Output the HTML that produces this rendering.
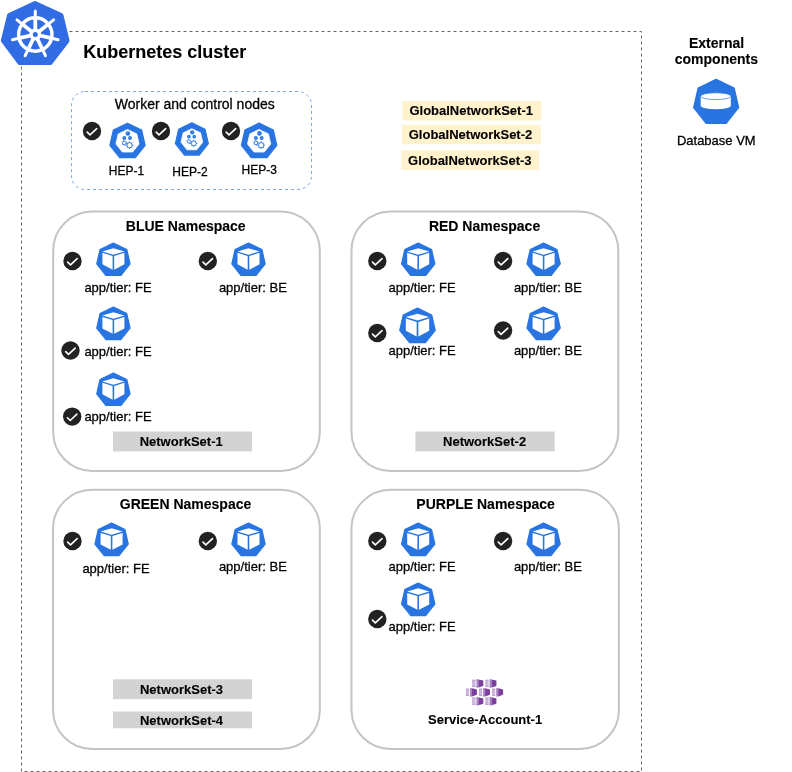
<!DOCTYPE html>
<html><head><meta charset="utf-8"><style>html,body{margin:0;padding:0;background:#fff;width:792px;height:772px;overflow:hidden}</style></head>
<body><svg width="792" height="772" viewBox="0 0 792 772" style="display:block;will-change:transform;font-family:'Liberation Sans',sans-serif"><rect x="21.5" y="31.5" width="620" height="740" fill="none" stroke="#666" stroke-width="1" stroke-dasharray="3 3"/>
<polygon points="35.00,3.50 61.11,15.48 67.12,40.66 50.12,62.71 19.88,62.71 3.27,40.65 9.37,15.50" fill="#326ce5" stroke="#326ce5" stroke-width="4.8" stroke-linejoin="round"/>
<circle cx="35.3" cy="34.5" r="16.65" fill="none" stroke="#fff" stroke-width="3.5"/>
<line x1="35.3" y1="34.5" x2="35.30" y2="17.85" stroke="#fff" stroke-width="3.8"/>
<line x1="35.30" y1="17.85" x2="35.30" y2="11.10" stroke="#fff" stroke-width="3.0" stroke-linecap="round"/>
<line x1="35.3" y1="34.5" x2="48.32" y2="24.12" stroke="#fff" stroke-width="3.8"/>
<line x1="48.32" y1="24.12" x2="53.59" y2="19.91" stroke="#fff" stroke-width="3.0" stroke-linecap="round"/>
<line x1="35.3" y1="34.5" x2="51.53" y2="38.20" stroke="#fff" stroke-width="3.8"/>
<line x1="51.53" y1="38.20" x2="58.11" y2="39.71" stroke="#fff" stroke-width="3.0" stroke-linecap="round"/>
<line x1="35.3" y1="34.5" x2="42.52" y2="49.50" stroke="#fff" stroke-width="3.8"/>
<line x1="42.52" y1="49.50" x2="45.45" y2="55.58" stroke="#fff" stroke-width="3.0" stroke-linecap="round"/>
<line x1="35.3" y1="34.5" x2="28.08" y2="49.50" stroke="#fff" stroke-width="3.8"/>
<line x1="28.08" y1="49.50" x2="25.15" y2="55.58" stroke="#fff" stroke-width="3.0" stroke-linecap="round"/>
<line x1="35.3" y1="34.5" x2="19.07" y2="38.20" stroke="#fff" stroke-width="3.8"/>
<line x1="19.07" y1="38.20" x2="12.49" y2="39.71" stroke="#fff" stroke-width="3.0" stroke-linecap="round"/>
<line x1="35.3" y1="34.5" x2="22.28" y2="24.12" stroke="#fff" stroke-width="3.8"/>
<line x1="22.28" y1="24.12" x2="17.01" y2="19.91" stroke="#fff" stroke-width="3.0" stroke-linecap="round"/>
<circle cx="35.3" cy="34.5" r="6.0" fill="#fff"/>
<circle cx="35.3" cy="34.5" r="2.5" fill="#326ce5"/>
<text x="164.8" y="57.7" font-size="18" font-weight="bold" text-anchor="middle" fill="#000" stroke="#000" stroke-width="0.12">Kubernetes cluster</text>
<rect x="71.5" y="91.5" width="240" height="98" rx="13.5" ry="13.5" fill="none" stroke="#7ea6e0" stroke-width="1" stroke-dasharray="3 3"/>
<text x="194.75" y="109" font-size="14" text-anchor="middle" fill="#000" stroke="#000" stroke-width="0.28">Worker and control nodes</text>
<circle cx="92" cy="131" r="9.2" fill="#222"/><polyline points="87.20,132.10 90.00,134.90 96.70,128.60" fill="none" stroke="#fff" stroke-width="1.6" stroke-linecap="round" stroke-linejoin="round"/>
<polygon points="127.50,123.20 141.65,130.01 145.15,145.33 135.35,157.61 119.65,157.61 109.85,145.33 113.35,130.01" fill="#2875e2" stroke="#2875e2" stroke-width="1.2" stroke-linejoin="round"/><polygon points="127.50,129.43 136.78,133.90 139.08,143.94 132.65,152.00 122.35,152.00 115.92,143.94 118.22,133.90" fill="#fff" stroke="#fff" stroke-width="0.8" stroke-linejoin="round"/><circle cx="127.86" cy="133.42" r="2.29" fill="#2875e2"/><rect x="127.61" y="132.52" width="0.50" height="1.50" fill="#9bbcf0"/><circle cx="124.33" cy="137.94" r="1.94" fill="#2875e2"/><rect x="124.08" y="137.04" width="0.50" height="1.50" fill="#9bbcf0"/><circle cx="130.04" cy="137.94" r="1.94" fill="#2875e2"/><rect x="129.79" y="137.04" width="0.50" height="1.50" fill="#9bbcf0"/><circle cx="124.33" cy="142.98" r="1.80" fill="none" stroke="#2875e2" stroke-width="0.85"/><line x1="126.06" y1="143.44" x2="126.93" y2="143.67" stroke="#2875e2" stroke-width="0.90"/><line x1="124.79" y1="144.71" x2="125.03" y2="145.58" stroke="#2875e2" stroke-width="0.90"/><line x1="123.06" y1="144.24" x2="122.42" y2="144.88" stroke="#2875e2" stroke-width="0.90"/><line x1="122.59" y1="142.51" x2="121.73" y2="142.28" stroke="#2875e2" stroke-width="0.90"/><line x1="123.86" y1="141.24" x2="123.63" y2="140.37" stroke="#2875e2" stroke-width="0.90"/><line x1="125.60" y1="141.71" x2="126.23" y2="141.07" stroke="#2875e2" stroke-width="0.90"/><circle cx="129.53" cy="145.16" r="2.59" fill="none" stroke="#2875e2" stroke-width="0.90"/><line x1="132.13" y1="145.16" x2="133.32" y2="145.16" stroke="#2875e2" stroke-width="1.00"/><line x1="131.37" y1="146.99" x2="132.21" y2="147.84" stroke="#2875e2" stroke-width="1.00"/><line x1="129.53" y1="147.75" x2="129.53" y2="148.95" stroke="#2875e2" stroke-width="1.00"/><line x1="127.70" y1="146.99" x2="126.85" y2="147.84" stroke="#2875e2" stroke-width="1.00"/><line x1="126.94" y1="145.16" x2="125.74" y2="145.16" stroke="#2875e2" stroke-width="1.00"/><line x1="127.70" y1="143.33" x2="126.85" y2="142.48" stroke="#2875e2" stroke-width="1.00"/><line x1="129.53" y1="142.57" x2="129.53" y2="141.37" stroke="#2875e2" stroke-width="1.00"/><line x1="131.37" y1="143.33" x2="132.21" y2="142.48" stroke="#2875e2" stroke-width="1.00"/>
<text x="126.5" y="174.8" font-size="12" text-anchor="middle" fill="#000" stroke="#000" stroke-width="0.28">HEP-1</text>
<circle cx="161" cy="131" r="9.2" fill="#222"/><polyline points="156.20,132.10 159.00,134.90 165.70,128.60" fill="none" stroke="#fff" stroke-width="1.6" stroke-linecap="round" stroke-linejoin="round"/>
<polygon points="191.85,122.90 205.06,129.26 208.33,143.56 199.18,155.03 184.52,155.03 175.37,143.56 178.64,129.26" fill="#2875e2" stroke="#2875e2" stroke-width="1.2" stroke-linejoin="round"/><polygon points="191.85,128.69 200.54,132.87 202.68,142.27 196.67,149.81 187.03,149.81 181.02,142.27 183.16,132.87" fill="#fff" stroke="#fff" stroke-width="0.8" stroke-linejoin="round"/><circle cx="192.19" cy="132.43" r="2.15" fill="#2875e2"/><rect x="191.95" y="131.59" width="0.47" height="1.40" fill="#9bbcf0"/><circle cx="188.88" cy="136.65" r="1.82" fill="#2875e2"/><rect x="188.65" y="135.81" width="0.47" height="1.40" fill="#9bbcf0"/><circle cx="194.23" cy="136.65" r="1.82" fill="#2875e2"/><rect x="194.00" y="135.81" width="0.47" height="1.40" fill="#9bbcf0"/><circle cx="188.88" cy="141.37" r="1.68" fill="none" stroke="#2875e2" stroke-width="0.79"/><line x1="190.50" y1="141.80" x2="191.32" y2="142.02" stroke="#2875e2" stroke-width="0.84"/><line x1="189.32" y1="142.99" x2="189.53" y2="143.80" stroke="#2875e2" stroke-width="0.84"/><line x1="187.69" y1="142.56" x2="187.10" y2="143.15" stroke="#2875e2" stroke-width="0.84"/><line x1="187.26" y1="140.93" x2="186.45" y2="140.72" stroke="#2875e2" stroke-width="0.84"/><line x1="188.45" y1="139.75" x2="188.23" y2="138.93" stroke="#2875e2" stroke-width="0.84"/><line x1="190.07" y1="140.18" x2="190.66" y2="139.59" stroke="#2875e2" stroke-width="0.84"/><circle cx="193.75" cy="143.41" r="2.43" fill="none" stroke="#2875e2" stroke-width="0.84"/><line x1="196.18" y1="143.41" x2="197.30" y2="143.41" stroke="#2875e2" stroke-width="0.93"/><line x1="195.47" y1="145.13" x2="196.26" y2="145.92" stroke="#2875e2" stroke-width="0.93"/><line x1="193.75" y1="145.84" x2="193.75" y2="146.96" stroke="#2875e2" stroke-width="0.93"/><line x1="192.04" y1="145.13" x2="191.25" y2="145.92" stroke="#2875e2" stroke-width="0.93"/><line x1="191.33" y1="143.41" x2="190.21" y2="143.41" stroke="#2875e2" stroke-width="0.93"/><line x1="192.04" y1="141.70" x2="191.25" y2="140.90" stroke="#2875e2" stroke-width="0.93"/><line x1="193.75" y1="140.99" x2="193.75" y2="139.87" stroke="#2875e2" stroke-width="0.93"/><line x1="195.47" y1="141.70" x2="196.26" y2="140.90" stroke="#2875e2" stroke-width="0.93"/>
<text x="190" y="175.6" font-size="12" text-anchor="middle" fill="#000" stroke="#000" stroke-width="0.28">HEP-2</text>
<circle cx="231" cy="131" r="9.2" fill="#222"/><polyline points="226.20,132.10 229.00,134.90 235.70,128.60" fill="none" stroke="#fff" stroke-width="1.6" stroke-linecap="round" stroke-linejoin="round"/>
<polygon points="259.10,123.15 273.29,129.98 276.79,145.34 266.97,157.65 251.23,157.65 241.41,145.34 244.91,129.98" fill="#2875e2" stroke="#2875e2" stroke-width="1.2" stroke-linejoin="round"/><polygon points="259.10,129.39 268.41,133.88 270.71,143.95 264.27,152.03 253.93,152.03 247.49,143.95 249.79,133.88" fill="#fff" stroke="#fff" stroke-width="0.8" stroke-linejoin="round"/><circle cx="259.46" cy="133.40" r="2.30" fill="#2875e2"/><rect x="259.21" y="132.50" width="0.50" height="1.50" fill="#9bbcf0"/><circle cx="255.92" cy="137.93" r="1.95" fill="#2875e2"/><rect x="255.67" y="137.03" width="0.50" height="1.50" fill="#9bbcf0"/><circle cx="261.65" cy="137.93" r="1.95" fill="#2875e2"/><rect x="261.40" y="137.03" width="0.50" height="1.50" fill="#9bbcf0"/><circle cx="255.92" cy="142.98" r="1.80" fill="none" stroke="#2875e2" stroke-width="0.85"/><line x1="257.66" y1="143.45" x2="258.53" y2="143.68" stroke="#2875e2" stroke-width="0.90"/><line x1="256.39" y1="144.72" x2="256.62" y2="145.59" stroke="#2875e2" stroke-width="0.90"/><line x1="254.65" y1="144.25" x2="254.01" y2="144.89" stroke="#2875e2" stroke-width="0.90"/><line x1="254.18" y1="142.51" x2="253.31" y2="142.28" stroke="#2875e2" stroke-width="0.90"/><line x1="255.45" y1="141.24" x2="255.22" y2="140.37" stroke="#2875e2" stroke-width="0.90"/><line x1="257.19" y1="141.71" x2="257.83" y2="141.07" stroke="#2875e2" stroke-width="0.90"/><circle cx="261.14" cy="145.17" r="2.60" fill="none" stroke="#2875e2" stroke-width="0.90"/><line x1="263.74" y1="145.17" x2="264.94" y2="145.17" stroke="#2875e2" stroke-width="1.00"/><line x1="262.98" y1="147.01" x2="263.83" y2="147.86" stroke="#2875e2" stroke-width="1.00"/><line x1="261.14" y1="147.77" x2="261.14" y2="148.97" stroke="#2875e2" stroke-width="1.00"/><line x1="259.30" y1="147.01" x2="258.45" y2="147.86" stroke="#2875e2" stroke-width="1.00"/><line x1="258.54" y1="145.17" x2="257.34" y2="145.17" stroke="#2875e2" stroke-width="1.00"/><line x1="259.30" y1="143.33" x2="258.45" y2="142.48" stroke="#2875e2" stroke-width="1.00"/><line x1="261.14" y1="142.57" x2="261.14" y2="141.37" stroke="#2875e2" stroke-width="1.00"/><line x1="262.98" y1="143.33" x2="263.83" y2="142.48" stroke="#2875e2" stroke-width="1.00"/>
<text x="259.2" y="174.4" font-size="12" text-anchor="middle" fill="#000" stroke="#000" stroke-width="0.28">HEP-3</text>
<rect x="402.4" y="100.9" width="139.0" height="19.5" fill="#fff2cc"/>
<text x="471.2" y="115" font-size="13" font-weight="bold" text-anchor="middle" fill="#000" stroke="#000" stroke-width="0.12">GlobalNetworkSet-1</text>
<rect x="401.8" y="124.9" width="139.0" height="19.4" fill="#fff2cc"/>
<text x="470.5" y="139" font-size="13" font-weight="bold" text-anchor="middle" fill="#000" stroke="#000" stroke-width="0.12">GlobalNetworkSet-2</text>
<rect x="401.3" y="150.2" width="137.9" height="19.8" fill="#fff2cc"/>
<text x="469.8" y="164.5" font-size="13" font-weight="bold" text-anchor="middle" fill="#000" stroke="#000" stroke-width="0.12">GlobalNetworkSet-3</text>
<text x="716.6" y="47.8" font-size="14" font-weight="bold" text-anchor="middle" fill="#000" stroke="#000" stroke-width="0.12">External</text>
<text x="716.4" y="64" font-size="14" font-weight="bold" text-anchor="middle" fill="#000" stroke="#000" stroke-width="0.12">components</text>
<polygon points="716.15,79.50 734.13,88.16 738.57,107.62 726.13,123.22 706.17,123.22 693.73,107.62 698.17,88.16" fill="#2875e2" stroke="#2875e2" stroke-width="1.4" stroke-linejoin="round"/>
<path d="M700.7,96.2 L700.7,105.8 A15,3.4 0 0 0 730.8,105.8 L730.8,96.2 Z" fill="#fff"/>
<ellipse cx="715.75" cy="96.2" rx="15.05" ry="3.4" fill="#fff" stroke="#2875e2" stroke-width="0.7"/>
<text x="716.3" y="144.8" font-size="13" text-anchor="middle" fill="#000" stroke="#000" stroke-width="0.28">Database VM</text>
<rect x="53.2" y="211.5" width="266.6" height="259.4" rx="39" ry="39" fill="none" stroke="#c4c4c4" stroke-width="2"/>
<text x="185.7" y="230.6" font-size="14" font-weight="bold" text-anchor="middle" fill="#000" stroke="#000" stroke-width="0.12">BLUE Namespace</text>
<rect x="351.5" y="211.5" width="266.8" height="259.4" rx="39" ry="39" fill="none" stroke="#c4c4c4" stroke-width="2"/>
<text x="484.55" y="230.6" font-size="14" font-weight="bold" text-anchor="middle" fill="#000" stroke="#000" stroke-width="0.12">RED Namespace</text>
<rect x="53.05" y="489.7" width="266.8" height="259.3" rx="39" ry="39" fill="none" stroke="#c4c4c4" stroke-width="2"/>
<text x="185.55" y="508.6" font-size="14" font-weight="bold" text-anchor="middle" fill="#000" stroke="#000" stroke-width="0.12">GREEN Namespace</text>
<rect x="351.5" y="489.7" width="267.4" height="259.3" rx="39" ry="39" fill="none" stroke="#c4c4c4" stroke-width="2"/>
<text x="485.6" y="508.6" font-size="14" font-weight="bold" text-anchor="middle" fill="#000" stroke="#000" stroke-width="0.12">PURPLE Namespace</text>
<polygon points="113.40,243.00 126.77,249.44 130.07,263.91 120.82,275.51 105.98,275.51 96.73,263.91 100.03,249.44" fill="#2875e2" stroke="#2875e2" stroke-width="1.2" stroke-linejoin="round"/><polygon points="113.40,248.20 124.40,251.40 113.40,254.70 102.40,251.40" fill="#fff"/><polygon points="102.40,252.80 112.60,256.00 112.60,269.70 102.40,264.30" fill="#fff"/><polygon points="124.40,252.80 114.20,256.00 114.20,269.70 124.40,264.30" fill="#fff"/>
<polygon points="248.50,243.00 261.87,249.44 265.17,263.91 255.92,275.51 241.08,275.51 231.83,263.91 235.13,249.44" fill="#2875e2" stroke="#2875e2" stroke-width="1.2" stroke-linejoin="round"/><polygon points="248.50,248.20 259.50,251.40 248.50,254.70 237.50,251.40" fill="#fff"/><polygon points="237.50,252.80 247.70,256.00 247.70,269.70 237.50,264.30" fill="#fff"/><polygon points="259.50,252.80 249.30,256.00 249.30,269.70 259.50,264.30" fill="#fff"/>
<polygon points="113.40,307.10 126.77,313.54 130.07,328.01 120.82,339.61 105.98,339.61 96.73,328.01 100.03,313.54" fill="#2875e2" stroke="#2875e2" stroke-width="1.2" stroke-linejoin="round"/><polygon points="113.40,312.30 124.40,315.50 113.40,318.80 102.40,315.50" fill="#fff"/><polygon points="102.40,316.90 112.60,320.10 112.60,333.80 102.40,328.40" fill="#fff"/><polygon points="124.40,316.90 114.20,320.10 114.20,333.80 124.40,328.40" fill="#fff"/>
<polygon points="113.40,373.00 126.77,379.44 130.07,393.91 120.82,405.51 105.98,405.51 96.73,393.91 100.03,379.44" fill="#2875e2" stroke="#2875e2" stroke-width="1.2" stroke-linejoin="round"/><polygon points="113.40,378.20 124.40,381.40 113.40,384.70 102.40,381.40" fill="#fff"/><polygon points="102.40,382.80 112.60,386.00 112.60,399.70 102.40,394.30" fill="#fff"/><polygon points="124.40,382.80 114.20,386.00 114.20,399.70 124.40,394.30" fill="#fff"/>
<polygon points="418.20,243.00 431.57,249.44 434.87,263.91 425.62,275.51 410.78,275.51 401.53,263.91 404.83,249.44" fill="#2875e2" stroke="#2875e2" stroke-width="1.2" stroke-linejoin="round"/><polygon points="418.20,248.20 429.20,251.40 418.20,254.70 407.20,251.40" fill="#fff"/><polygon points="407.20,252.80 417.40,256.00 417.40,269.70 407.20,264.30" fill="#fff"/><polygon points="429.20,252.80 419.00,256.00 419.00,269.70 429.20,264.30" fill="#fff"/>
<polygon points="543.60,243.00 556.97,249.44 560.27,263.91 551.02,275.51 536.18,275.51 526.93,263.91 530.23,249.44" fill="#2875e2" stroke="#2875e2" stroke-width="1.2" stroke-linejoin="round"/><polygon points="543.60,248.20 554.60,251.40 543.60,254.70 532.60,251.40" fill="#fff"/><polygon points="532.60,252.80 542.80,256.00 542.80,269.70 532.60,264.30" fill="#fff"/><polygon points="554.60,252.80 544.40,256.00 544.40,269.70 554.60,264.30" fill="#fff"/>
<polygon points="417.50,308.10 431.73,314.95 435.24,330.35 425.40,342.70 409.60,342.70 399.76,330.35 403.27,314.95" fill="#2875e2" stroke="#2875e2" stroke-width="1.2" stroke-linejoin="round"/><polygon points="417.50,313.66 429.18,317.06 417.50,320.56 405.82,317.06" fill="#fff"/><polygon points="405.82,318.55 416.65,321.95 416.65,336.50 405.82,330.76" fill="#fff"/><polygon points="429.18,318.55 418.35,321.95 418.35,336.50 429.18,330.76" fill="#fff"/>
<polygon points="543.60,307.10 556.97,313.54 560.27,328.01 551.02,339.61 536.18,339.61 526.93,328.01 530.23,313.54" fill="#2875e2" stroke="#2875e2" stroke-width="1.2" stroke-linejoin="round"/><polygon points="543.60,312.30 554.60,315.50 543.60,318.80 532.60,315.50" fill="#fff"/><polygon points="532.60,316.90 542.80,320.10 542.80,333.80 532.60,328.40" fill="#fff"/><polygon points="554.60,316.90 544.40,320.10 544.40,333.80 554.60,328.40" fill="#fff"/>
<polygon points="111.60,523.10 124.97,529.54 128.27,544.01 119.02,555.61 104.18,555.61 94.93,544.01 98.23,529.54" fill="#2875e2" stroke="#2875e2" stroke-width="1.2" stroke-linejoin="round"/><polygon points="111.60,528.30 122.60,531.50 111.60,534.80 100.60,531.50" fill="#fff"/><polygon points="100.60,532.90 110.80,536.10 110.80,549.80 100.60,544.40" fill="#fff"/><polygon points="122.60,532.90 112.40,536.10 112.40,549.80 122.60,544.40" fill="#fff"/>
<polygon points="248.50,523.10 261.87,529.54 265.17,544.01 255.92,555.61 241.08,555.61 231.83,544.01 235.13,529.54" fill="#2875e2" stroke="#2875e2" stroke-width="1.2" stroke-linejoin="round"/><polygon points="248.50,528.30 259.50,531.50 248.50,534.80 237.50,531.50" fill="#fff"/><polygon points="237.50,532.90 247.70,536.10 247.70,549.80 237.50,544.40" fill="#fff"/><polygon points="259.50,532.90 249.30,536.10 249.30,549.80 259.50,544.40" fill="#fff"/>
<polygon points="418.20,523.10 431.57,529.54 434.87,544.01 425.62,555.61 410.78,555.61 401.53,544.01 404.83,529.54" fill="#2875e2" stroke="#2875e2" stroke-width="1.2" stroke-linejoin="round"/><polygon points="418.20,528.30 429.20,531.50 418.20,534.80 407.20,531.50" fill="#fff"/><polygon points="407.20,532.90 417.40,536.10 417.40,549.80 407.20,544.40" fill="#fff"/><polygon points="429.20,532.90 419.00,536.10 419.00,549.80 429.20,544.40" fill="#fff"/>
<polygon points="543.60,523.10 556.97,529.54 560.27,544.01 551.02,555.61 536.18,555.61 526.93,544.01 530.23,529.54" fill="#2875e2" stroke="#2875e2" stroke-width="1.2" stroke-linejoin="round"/><polygon points="543.60,528.30 554.60,531.50 543.60,534.80 532.60,531.50" fill="#fff"/><polygon points="532.60,532.90 542.80,536.10 542.80,549.80 532.60,544.40" fill="#fff"/><polygon points="554.60,532.90 544.40,536.10 544.40,549.80 554.60,544.40" fill="#fff"/>
<polygon points="418.20,583.10 431.57,589.54 434.87,604.01 425.62,615.61 410.78,615.61 401.53,604.01 404.83,589.54" fill="#2875e2" stroke="#2875e2" stroke-width="1.2" stroke-linejoin="round"/><polygon points="418.20,588.30 429.20,591.50 418.20,594.80 407.20,591.50" fill="#fff"/><polygon points="407.20,592.90 417.40,596.10 417.40,609.80 407.20,604.40" fill="#fff"/><polygon points="429.20,592.90 419.00,596.10 419.00,609.80 429.20,604.40" fill="#fff"/>
<circle cx="72.5" cy="261" r="9.2" fill="#222"/><polyline points="67.70,262.10 70.50,264.90 77.20,258.60" fill="none" stroke="#fff" stroke-width="1.6" stroke-linecap="round" stroke-linejoin="round"/>
<circle cx="207.8" cy="261" r="9.2" fill="#222"/><polyline points="203.00,262.10 205.80,264.90 212.50,258.60" fill="none" stroke="#fff" stroke-width="1.6" stroke-linecap="round" stroke-linejoin="round"/>
<circle cx="70.5" cy="350.5" r="9.2" fill="#222"/><polyline points="65.70,351.60 68.50,354.40 75.20,348.10" fill="none" stroke="#fff" stroke-width="1.6" stroke-linecap="round" stroke-linejoin="round"/>
<circle cx="72.2" cy="416.6" r="9.2" fill="#222"/><polyline points="67.40,417.70 70.20,420.50 76.90,414.20" fill="none" stroke="#fff" stroke-width="1.6" stroke-linecap="round" stroke-linejoin="round"/>
<circle cx="377.3" cy="261" r="9.2" fill="#222"/><polyline points="372.50,262.10 375.30,264.90 382.00,258.60" fill="none" stroke="#fff" stroke-width="1.6" stroke-linecap="round" stroke-linejoin="round"/>
<circle cx="503.1" cy="261" r="9.2" fill="#222"/><polyline points="498.30,262.10 501.10,264.90 507.80,258.60" fill="none" stroke="#fff" stroke-width="1.6" stroke-linecap="round" stroke-linejoin="round"/>
<circle cx="377.3" cy="333" r="9.2" fill="#222"/><polyline points="372.50,334.10 375.30,336.90 382.00,330.60" fill="none" stroke="#fff" stroke-width="1.6" stroke-linecap="round" stroke-linejoin="round"/>
<circle cx="503.1" cy="330.5" r="9.2" fill="#222"/><polyline points="498.30,331.60 501.10,334.40 507.80,328.10" fill="none" stroke="#fff" stroke-width="1.6" stroke-linecap="round" stroke-linejoin="round"/>
<circle cx="72.5" cy="541" r="9.2" fill="#222"/><polyline points="67.70,542.10 70.50,544.90 77.20,538.60" fill="none" stroke="#fff" stroke-width="1.6" stroke-linecap="round" stroke-linejoin="round"/>
<circle cx="207.8" cy="541" r="9.2" fill="#222"/><polyline points="203.00,542.10 205.80,544.90 212.50,538.60" fill="none" stroke="#fff" stroke-width="1.6" stroke-linecap="round" stroke-linejoin="round"/>
<circle cx="377.3" cy="541" r="9.2" fill="#222"/><polyline points="372.50,542.10 375.30,544.90 382.00,538.60" fill="none" stroke="#fff" stroke-width="1.6" stroke-linecap="round" stroke-linejoin="round"/>
<circle cx="503.1" cy="541" r="9.2" fill="#222"/><polyline points="498.30,542.10 501.10,544.90 507.80,538.60" fill="none" stroke="#fff" stroke-width="1.6" stroke-linecap="round" stroke-linejoin="round"/>
<circle cx="377.3" cy="619" r="9.2" fill="#222"/><polyline points="372.50,620.10 375.30,622.90 382.00,616.60" fill="none" stroke="#fff" stroke-width="1.6" stroke-linecap="round" stroke-linejoin="round"/>
<text x="84.4" y="291.8" font-size="13" text-anchor="start" fill="#000" stroke="#000" stroke-width="0.28">app/tier: FE</text>
<text x="218.9" y="291.8" font-size="13" text-anchor="start" fill="#000" stroke="#000" stroke-width="0.28">app/tier: BE</text>
<text x="84.4" y="355.8" font-size="13" text-anchor="start" fill="#000" stroke="#000" stroke-width="0.28">app/tier: FE</text>
<text x="84.4" y="421.4" font-size="13" text-anchor="start" fill="#000" stroke="#000" stroke-width="0.28">app/tier: FE</text>
<text x="388.5" y="291.8" font-size="13" text-anchor="start" fill="#000" stroke="#000" stroke-width="0.28">app/tier: FE</text>
<text x="513.9" y="291.8" font-size="13" text-anchor="start" fill="#000" stroke="#000" stroke-width="0.28">app/tier: BE</text>
<text x="388.5" y="355.3" font-size="13" text-anchor="start" fill="#000" stroke="#000" stroke-width="0.28">app/tier: FE</text>
<text x="513.9" y="355.3" font-size="13" text-anchor="start" fill="#000" stroke="#000" stroke-width="0.28">app/tier: BE</text>
<text x="82.4" y="573.3" font-size="13" text-anchor="start" fill="#000" stroke="#000" stroke-width="0.28">app/tier: FE</text>
<text x="218.9" y="571.4" font-size="13" text-anchor="start" fill="#000" stroke="#000" stroke-width="0.28">app/tier: BE</text>
<text x="388.5" y="571.4" font-size="13" text-anchor="start" fill="#000" stroke="#000" stroke-width="0.28">app/tier: FE</text>
<text x="513.9" y="571.4" font-size="13" text-anchor="start" fill="#000" stroke="#000" stroke-width="0.28">app/tier: BE</text>
<text x="388.5" y="631.4" font-size="13" text-anchor="start" fill="#000" stroke="#000" stroke-width="0.28">app/tier: FE</text>
<rect x="113" y="431.5" width="139.0" height="19.9" fill="#d3d3d3"/>
<text x="181.2" y="445.9" font-size="13" font-weight="bold" text-anchor="middle" fill="#000" stroke="#000" stroke-width="0.12">NetworkSet-1</text>
<rect x="415.4" y="431.5" width="139.3" height="19.9" fill="#d3d3d3"/>
<text x="484.6" y="445.9" font-size="13" font-weight="bold" text-anchor="middle" fill="#000" stroke="#000" stroke-width="0.12">NetworkSet-2</text>
<rect x="113" y="679.3" width="139.0" height="19.9" fill="#d3d3d3"/>
<text x="181.5" y="694" font-size="13" font-weight="bold" text-anchor="middle" fill="#000" stroke="#000" stroke-width="0.12">NetworkSet-3</text>
<rect x="113" y="711.5" width="139.0" height="16.8" fill="#d3d3d3"/>
<text x="181.5" y="724.8" font-size="13" font-weight="bold" text-anchor="middle" fill="#000" stroke="#000" stroke-width="0.12">NetworkSet-4</text>
<rect x="472.50" y="679.80" width="3.0" height="7.2" fill="#d0b8e0"/><rect x="472.50" y="679.80" width="3.0" height="0.8" fill="#b696cf"/><rect x="472.50" y="679.80" width="0.6" height="7.2" fill="#b99bd1"/><rect x="472.50" y="686.10" width="3.0" height="0.8" fill="#b696cf"/><rect x="476.40" y="679.20" width="2.0" height="8.5" fill="#a983c4"/><polygon points="478.40,679.40 483.30,680.60 483.30,685.90 478.40,687.50" fill="#7b3f9e"/>
<rect x="485.60" y="679.80" width="3.0" height="7.2" fill="#d0b8e0"/><rect x="485.60" y="679.80" width="3.0" height="0.8" fill="#b696cf"/><rect x="485.60" y="679.80" width="0.6" height="7.2" fill="#b99bd1"/><rect x="485.60" y="686.10" width="3.0" height="0.8" fill="#b696cf"/><rect x="489.50" y="679.20" width="2.0" height="8.5" fill="#a983c4"/><polygon points="491.50,679.40 496.40,680.60 496.40,685.90 491.50,687.50" fill="#7b3f9e"/>
<rect x="466.10" y="688.70" width="3.0" height="7.2" fill="#d0b8e0"/><rect x="466.10" y="688.70" width="3.0" height="0.8" fill="#b696cf"/><rect x="466.10" y="688.70" width="0.6" height="7.2" fill="#b99bd1"/><rect x="466.10" y="695.00" width="3.0" height="0.8" fill="#b696cf"/><rect x="470.00" y="688.10" width="2.0" height="8.5" fill="#a983c4"/><polygon points="472.00,688.30 476.90,689.50 476.90,694.80 472.00,696.40" fill="#7b3f9e"/>
<rect x="479.20" y="688.70" width="3.0" height="7.2" fill="#d0b8e0"/><rect x="479.20" y="688.70" width="3.0" height="0.8" fill="#b696cf"/><rect x="479.20" y="688.70" width="0.6" height="7.2" fill="#b99bd1"/><rect x="479.20" y="695.00" width="3.0" height="0.8" fill="#b696cf"/><rect x="483.10" y="688.10" width="2.0" height="8.5" fill="#a983c4"/><polygon points="485.10,688.30 490.00,689.50 490.00,694.80 485.10,696.40" fill="#7b3f9e"/>
<rect x="492.30" y="688.70" width="3.0" height="7.2" fill="#d0b8e0"/><rect x="492.30" y="688.70" width="3.0" height="0.8" fill="#b696cf"/><rect x="492.30" y="688.70" width="0.6" height="7.2" fill="#b99bd1"/><rect x="492.30" y="695.00" width="3.0" height="0.8" fill="#b696cf"/><rect x="496.20" y="688.10" width="2.0" height="8.5" fill="#a983c4"/><polygon points="498.20,688.30 503.10,689.50 503.10,694.80 498.20,696.40" fill="#7b3f9e"/>
<rect x="472.50" y="697.60" width="3.0" height="7.2" fill="#d0b8e0"/><rect x="472.50" y="697.60" width="3.0" height="0.8" fill="#b696cf"/><rect x="472.50" y="697.60" width="0.6" height="7.2" fill="#b99bd1"/><rect x="472.50" y="703.90" width="3.0" height="0.8" fill="#b696cf"/><rect x="476.40" y="697.00" width="2.0" height="8.5" fill="#a983c4"/><polygon points="478.40,697.20 483.30,698.40 483.30,703.70 478.40,705.30" fill="#7b3f9e"/>
<rect x="485.60" y="697.60" width="3.0" height="7.2" fill="#d0b8e0"/><rect x="485.60" y="697.60" width="3.0" height="0.8" fill="#b696cf"/><rect x="485.60" y="697.60" width="0.6" height="7.2" fill="#b99bd1"/><rect x="485.60" y="703.90" width="3.0" height="0.8" fill="#b696cf"/><rect x="489.50" y="697.00" width="2.0" height="8.5" fill="#a983c4"/><polygon points="491.50,697.20 496.40,698.40 496.40,703.70 491.50,705.30" fill="#7b3f9e"/>
<text x="485.1" y="724.4" font-size="13" font-weight="bold" text-anchor="middle" fill="#000" stroke="#000" stroke-width="0.12">Service-Account-1</text></svg></body></html>
